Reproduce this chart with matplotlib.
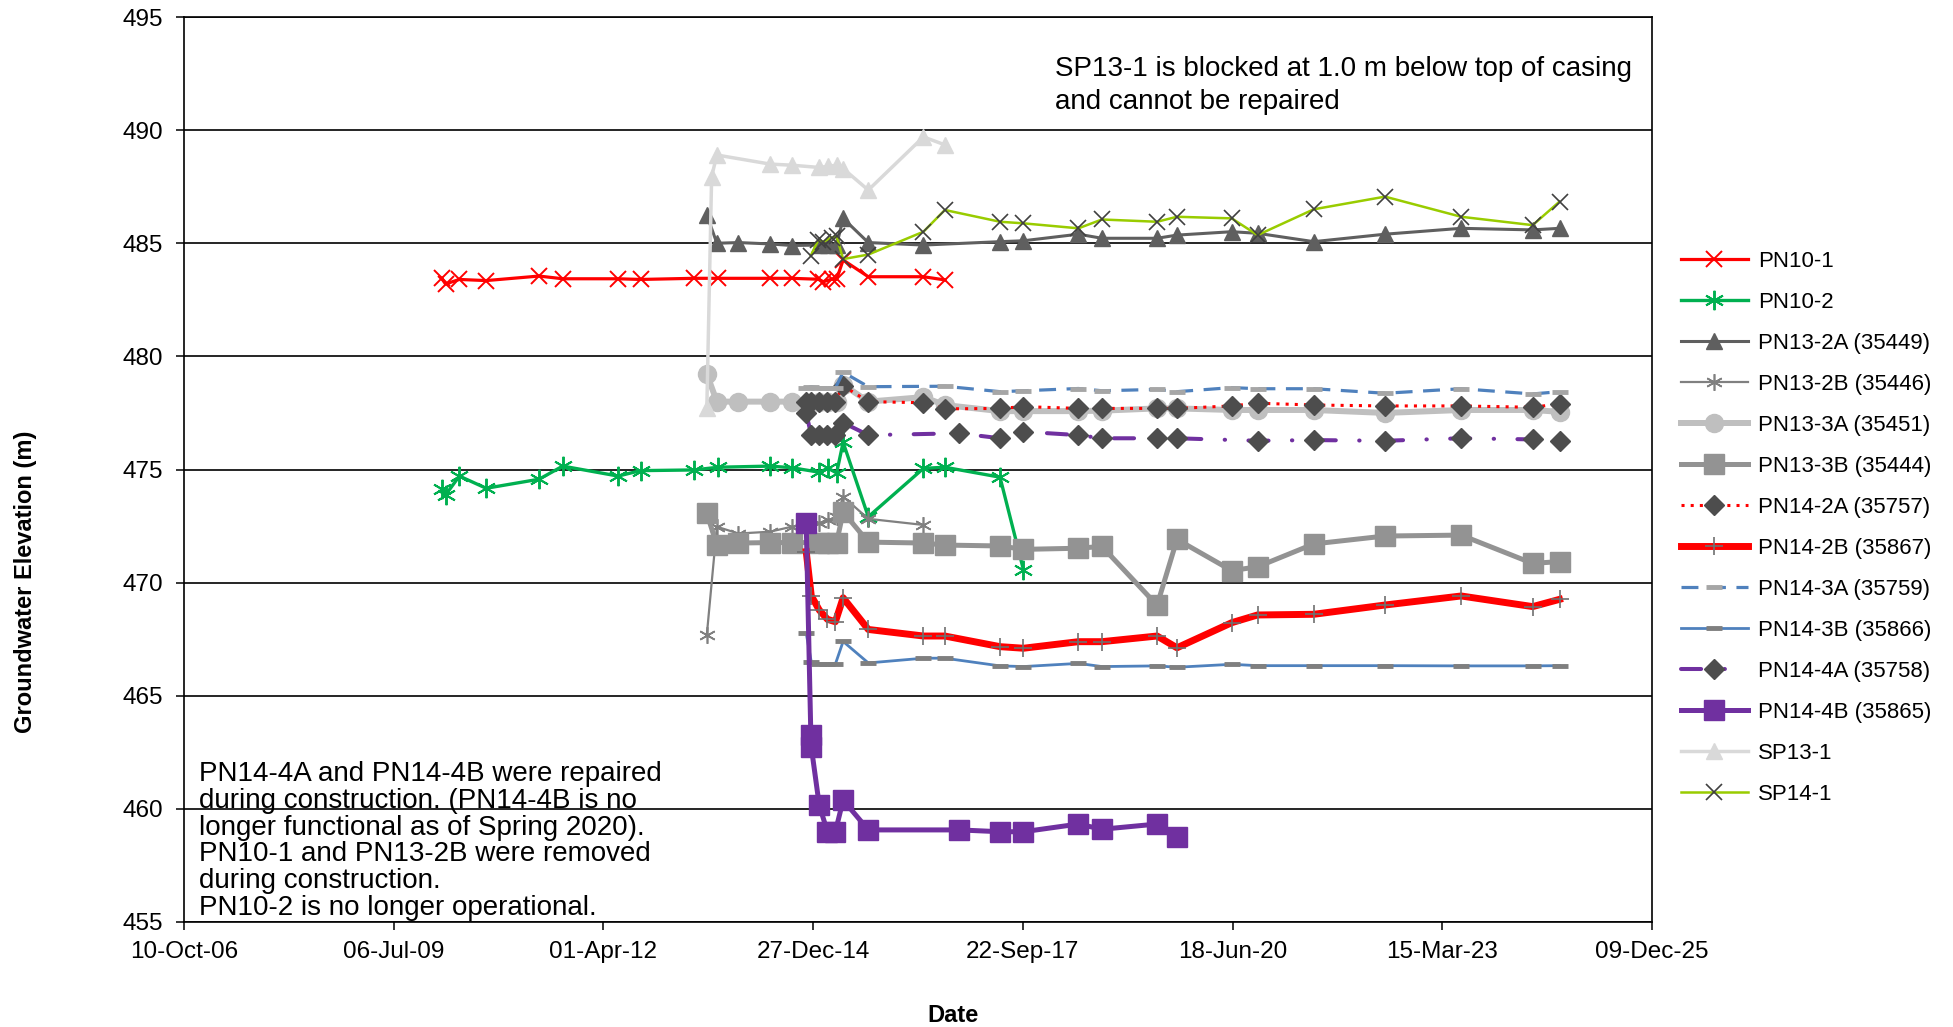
import numpy as np
import matplotlib
matplotlib.use("Agg")
import matplotlib.pyplot as plt
import matplotlib.dates as mdates

plt.rcParams['font.family'] = ['Liberation Sans', 'DejaVu Sans']

# ---------------- data ----------------
pn10_1_dates = ["2010-02-20", "2010-03-10", "2010-05-15", "2010-09-20", "2011-05-30", "2011-09-20",
                "2012-06-10", "2012-09-25", "2013-06-05", "2013-10-01", "2014-06-04", "2014-09-16",
                "2015-01-20", "2015-02-14", "2015-03-25", "2015-04-18", "2015-05-19", "2015-09-16",
                "2016-06-05", "2016-09-15"]
pn10_1_vals = [483.45, 483.2, 483.4, 483.35, 483.55, 483.43, 483.43, 483.4, 483.45, 483.45, 483.45,
               483.45, 483.41, 483.3, 483.41, 483.41, 484.26, 483.52, 483.52, 483.38]

pn10_2_dates = ["2010-02-20", "2010-03-10", "2010-05-15", "2010-09-20", "2011-05-30", "2011-09-20",
                "2012-06-10", "2012-09-25", "2013-06-05", "2013-10-01", "2014-06-04", "2014-09-16",
                "2015-01-25", "2015-03-09", "2015-04-18", "2015-05-19", "2015-09-16", "2016-06-05",
                "2016-09-15", "2017-06-05", "2017-09-25"]
pn10_2_vals = [474.12, 473.87, 474.71, 474.17, 474.57, 475.15, 474.71, 474.95, 474.98, 475.1, 475.15,
               475.08, 474.88, 475.05, 474.85, 476.2, 472.91, 475.05, 475.1, 474.66, 470.56]

pn13_2a_dates = ["2013-08-07", "2013-09-24", "2014-01-05", "2014-06-04", "2014-09-16", "2015-01-25",
                 "2015-03-09", "2015-04-18", "2015-05-19", "2015-09-16", "2016-06-05", "2017-06-05",
                 "2017-09-25", "2018-06-14", "2018-10-04", "2019-06-24", "2019-09-27", "2020-06-14",
                 "2020-10-15", "2021-07-10", "2022-06-15", "2023-06-13", "2024-05-19", "2024-09-24"]
pn13_2a_vals = [486.25, 485.0, 485.03, 484.97, 484.9, 484.92, 484.92, 484.92, 486.1, 485.03, 484.92,
                485.07, 485.11, 485.4, 485.22, 485.22, 485.36, 485.51, 485.44, 485.07, 485.4, 485.66,
                485.59, 485.66]

pn13_2b_dates = ["2013-08-07", "2013-09-24", "2014-01-05", "2014-06-04", "2014-09-16", "2015-01-25",
                 "2015-03-09", "2015-04-18", "2015-05-19", "2015-09-16", "2016-06-05"]
pn13_2b_vals = [467.69, 472.47, 472.17, 472.25, 472.47, 472.62, 472.77, 472.89, 473.8, 472.82, 472.55]

pn13_3_dates = ["2013-08-07", "2013-09-24", "2014-01-05", "2014-06-04", "2014-09-16", "2015-01-25",
                "2015-03-09", "2015-04-18", "2015-05-19", "2015-09-16", "2016-06-05", "2016-09-15",
                "2017-06-05", "2017-09-25", "2018-06-14", "2018-10-04", "2019-06-24", "2019-09-27",
                "2020-06-14", "2020-10-15", "2021-07-10", "2022-06-15", "2023-06-13", "2024-05-19",
                "2024-09-24"]
pn13_3a_vals = [479.22, 478.0, 478.0, 478.0, 478.0, 478.0, 478.0, 478.0, 478.75, 478.0, 478.2, 477.85,
                477.58, 477.58, 477.58, 477.6, 477.7, 477.7, 477.63, 477.63, 477.63, 477.5, 477.63,
                477.63, 477.55]
pn13_3b_vals = [473.06, 471.66, 471.75, 471.77, 471.77, 471.77, 471.77, 471.77, 473.12, 471.79, 471.75,
                471.66, 471.62, 471.47, 471.52, 471.6, 469.0, 471.91, 470.53, 470.7, 471.71, 472.06,
                472.1, 470.85, 470.93]

pn14_dates = ["2014-11-24", "2014-12-18", "2015-01-25", "2015-03-05", "2015-04-12", "2015-05-19",
              "2015-09-16", "2016-06-05", "2016-09-15", "2017-06-05", "2017-09-25", "2018-06-14",
              "2018-10-04", "2019-06-24", "2019-09-27", "2020-06-14", "2020-10-15", "2021-07-10",
              "2022-06-15", "2023-06-13", "2024-05-19", "2024-09-24"]
pn14_2a_vals = [478.0, 478.0, 478.0, 478.0, 478.0, 478.7, 478.0, 477.95, 477.68, 477.7, 477.78, 477.7,
                477.7, 477.7, 477.7, 477.81, 477.93, 477.85, 477.81, 477.81, 477.75, 477.9]
pn14_2b_vals = [471.37, 469.42, 468.79, 468.38, 468.27, 469.33, 467.93, 467.64, 467.64, 467.17, 467.1,
                467.39, 467.39, 467.64, 467.12, 468.23, 468.57, 468.6, 469.01, 469.41, 468.94, 469.26]
pn14_3b_vals = [467.76, 466.5, 466.4, 466.4, 466.4, 467.4, 466.45, 466.66, 466.66, 466.32, 466.29,
                466.43, 466.29, 466.32, 466.26, 466.39, 466.33, 466.33, 466.33, 466.32, 466.32, 466.33]

pn14_3a_dates = ["2014-11-24", "2014-12-18", "2015-01-25", "2015-03-05", "2015-04-12", "2015-05-19",
                 "2015-09-16", "2016-09-15", "2017-06-05", "2017-09-25", "2018-06-14", "2018-10-04",
                 "2019-06-24", "2019-09-27", "2020-06-14", "2020-10-15", "2021-07-10", "2022-06-15",
                 "2023-06-13", "2024-05-19", "2024-09-24"]
pn14_3a_vals = [478.6, 478.66, 478.6, 478.6, 478.6, 479.3, 478.66, 478.68, 478.44, 478.48, 478.58,
                478.48, 478.54, 478.44, 478.62, 478.57, 478.57, 478.37, 478.57, 478.34, 478.44]

pn14_4a_dates = ["2014-11-24", "2014-12-18", "2015-01-25", "2015-03-05", "2015-04-12", "2015-05-19",
                 "2015-09-16", "2016-11-23", "2017-06-05", "2017-09-25", "2018-06-14", "2018-10-04",
                 "2019-06-24", "2019-09-27", "2020-10-15", "2021-07-10", "2022-06-15", "2023-06-13",
                 "2024-05-19", "2024-09-24"]
pn14_4a_vals = [477.48, 476.52, 476.52, 476.52, 476.52, 477.07, 476.52, 476.6, 476.38, 476.67, 476.52,
                476.38, 476.38, 476.38, 476.27, 476.3, 476.27, 476.38, 476.33, 476.27]

pn14_4b_dates = ["2014-11-24", "2014-12-16", "2014-12-18", "2015-01-25", "2015-03-05", "2015-04-12",
                 "2015-05-19", "2015-09-16", "2016-11-23", "2017-06-05", "2017-09-25", "2018-06-14",
                 "2018-10-04", "2019-06-24", "2019-09-27"]
pn14_4b_vals = [472.62, 463.27, 462.75, 460.17, 458.99, 458.99, 460.39, 459.07, 459.07, 458.99, 458.99,
                459.33, 459.1, 459.33, 458.77]

sp13_1_dates = ["2013-08-07", "2013-08-30", "2013-09-24", "2014-06-04", "2014-09-16", "2015-01-25",
                "2015-03-09", "2015-04-18", "2015-05-19", "2015-09-16", "2016-06-05", "2016-09-15"]
sp13_1_vals = [477.7, 487.95, 488.9, 488.5, 488.45, 488.35, 488.4, 488.45, 488.3, 487.35, 489.7, 489.35]

sp14_1_dates = ["2014-12-16", "2015-01-20", "2015-02-14", "2015-03-25", "2015-04-18", "2015-05-19",
                "2015-09-16", "2016-06-05", "2016-09-15", "2017-06-05", "2017-09-25", "2018-06-14",
                "2018-10-04", "2019-06-24", "2019-09-27", "2020-06-14", "2020-10-15", "2021-07-10",
                "2022-06-15", "2023-06-13", "2024-05-19", "2024-09-24"]
sp14_1_vals = [484.45, 485.14, 485.07, 485.25, 485.3, 484.3, 484.5, 485.51, 486.47, 485.95, 485.88,
               485.66, 486.05, 485.95, 486.17, 486.1, 485.36, 486.5, 487.06, 486.17, 485.8, 486.84]

series_labels = ["PN10-1", "PN10-2", "PN13-2A (35449)", "PN13-2B (35446)", "PN13-3A (35451)",
                 "PN13-3B (35444)", "PN14-2A (35757)", "PN14-2B (35867)", "PN14-3A (35759)",
                 "PN14-3B (35866)", "PN14-4A (35758)", "PN14-4B (35865)", "SP13-1", "SP14-1"]

note_top = "SP13-1 is blocked at 1.0 m below top of casing\nand cannot be repaired"
note_bottom = ("PN14-4A and PN14-4B were repaired\nduring construction. (PN14-4B is no\n"
               "longer functional as of Spring 2020).\nPN10-1 and PN13-2B were removed\n"
               "during construction.\nPN10-2 is no longer operational.")

# ---------------- figure ----------------
W, H = 1953, 1027
fig = plt.figure(figsize=(W / 100, H / 100), dpi=100)
ax = fig.add_axes([184 / W, 1 - 922 / H, (1652 - 184) / W, (922 - 17) / H])


def d(lst):
    return np.array(lst, dtype="datetime64[D]")


asterisk = (6, 2, 0)
styles = [
    (d(pn10_1_dates), pn10_1_vals, dict(color="#ff0000", lw=2.3, marker="x", ms=12, mew=1.4,
                                        mec="#ff0000")),
    (d(pn10_2_dates), pn10_2_vals, dict(color="#00b050", lw=2.4, marker=asterisk, ms=14, mew=1.4,
                                        mec="#00b050")),
    (d(pn13_2a_dates), pn13_2a_vals, dict(color="#5f5f5f", lw=2.2, marker="^", ms=12,
                                          mfc="#5f5f5f", mec="#5f5f5f")),
    (d(pn13_2b_dates), pn13_2b_vals, dict(color="#808080", lw=1.6, marker=asterisk, ms=12, mew=1.2,
                                          mec="#808080")),
    (d(pn13_3_dates), pn13_3a_vals, dict(color="#bfbfbf", lw=4.3, marker="o", ms=13,
                                         mfc="#bfbfbf", mec="#bfbfbf")),
    (d(pn13_3_dates), pn13_3b_vals, dict(color="#939393", lw=3.6, marker="s", ms=14,
                                         mfc="#939393", mec="#939393")),
    (d(pn14_dates), pn14_2a_vals, dict(color="#ff0000", lw=2.2, ls=(0, (1, 2)), marker="D", ms=10,
                                       mfc="#4d4d4d", mec="#4d4d4d")),
    (d(pn14_dates), pn14_2b_vals, dict(color="#ff0000", lw=5.0, marker="+", ms=13, mew=1.2,
                                       mec="#6f6f6f")),
    (d(pn14_3a_dates), pn14_3a_vals, dict(color="#4f81bd", lw=2.3, ls=(0, (5.3, 3.3)), marker="_",
                                          ms=12, mew=3.5, mec="#a6a6a6")),
    (d(pn14_dates), pn14_3b_vals, dict(color="#4f81bd", lw=2.0, marker="_", ms=12, mew=3.5,
                                       mec="#7f7f7f")),
    (d(pn14_4a_dates), pn14_4a_vals, dict(color="#7030a0", lw=2.9, ls=(0, (5.0, 5.8, 0.1, 5.8)),
                                          dash_capstyle="round", marker="D", ms=10,
                                          mfc="#4d4d4d", mec="#4d4d4d")),
    (d(pn14_4b_dates), pn14_4b_vals, dict(color="#7030a0", lw=3.6, marker="s", ms=14,
                                          mfc="#7030a0", mec="#7030a0")),
    (d(sp13_1_dates), sp13_1_vals, dict(color="#d9d9d9", lw=2.5, marker="^", ms=12,
                                        mfc="#d9d9d9", mec="#d9d9d9")),
    (d(sp14_1_dates), sp14_1_vals, dict(color="#99cc00", lw=1.8, marker="x", ms=11, mew=1.2,
                                        mec="#404040")),
]

handles = []
for i, ((x, y, kw), lab) in enumerate(zip(styles, series_labels)):
    ln, = ax.plot(x, y, label=lab, zorder=3 + i * 0.1, **kw)
    handles.append(ln)

# axes ranges and ticks
x0 = np.datetime64("2006-10-10")
x1 = np.datetime64("2025-12-09")
ax.set_xlim(x0, x1)
ax.set_ylim(455, 495)
ax.set_yticks(np.arange(455, 496, 5))
ax.set_xticks(np.arange(x0, x1 + np.timedelta64(1, "D"), np.timedelta64(1000, "D")))
ax.xaxis.set_major_formatter(mdates.DateFormatter("%d-%b-%y"))
ax.tick_params(axis="both", labelsize=17.5, direction="out", width=1.1, color="black")
ax.tick_params(axis="y", length=6, pad=9)
ax.tick_params(axis="x", length=6, pad=8)
ax.grid(axis="y", color="black", lw=1.2, zorder=1)
ax.set_axisbelow(True)
for s in ax.spines.values():
    s.set_color("black")
    s.set_linewidth(1.2)

fig.text(26 / W, 1 - 582 / H, "Groundwater Elevation (m)", rotation=90, fontsize=17,
         fontweight="bold", ha="center", va="center")
fig.text(953 / W, 1 - 1015 / H, "Date", fontsize=17, fontweight="bold", ha="center", va="center")

fig.text(1055 / W, 1 - 56 / H, note_top, fontsize=20, ha="left", va="top", linespacing=1.37)
fig.text(199 / W, 1 - 761 / H, note_bottom, fontsize=20, ha="left", va="top", linespacing=1.04)

fig.legend(handles=handles, loc="upper left", bbox_to_anchor=(1681 / W, 1 - 251 / H),
           frameon=False, fontsize=16, handlelength=3.0, handletextpad=0.45, labelspacing=0.9,
           borderpad=0, borderaxespad=0, numpoints=1)

fig.savefig("out.png", dpi=100)
